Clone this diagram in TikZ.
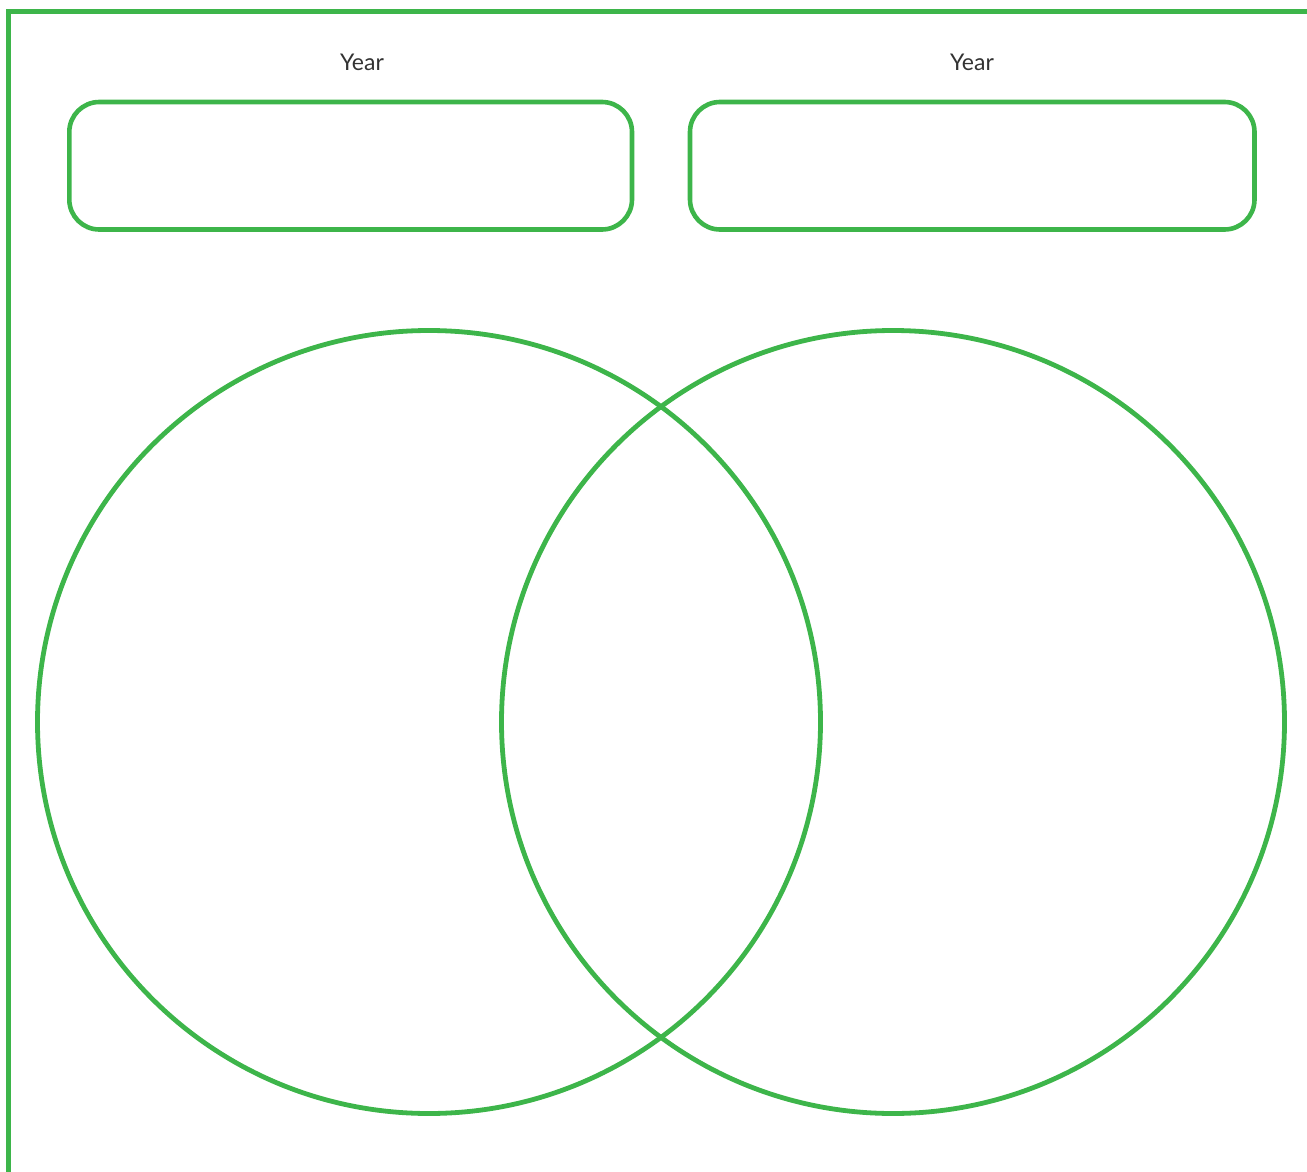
\documentclass[tikz,border=0pt]{standalone}
\usepackage{fontspec}
\setmainfont{Lato}
\definecolor{vgreen}{RGB}{61,181,74}
\definecolor{txt}{RGB}{51,51,51}
\begin{document}
\begin{tikzpicture}[x=1pt,y=-1pt,
  line/.style={draw=vgreen,line width=4.6pt},
  yearbox/.style={line,rounded corners=30pt},
  ring/.style={line,line width=4.8pt},
  lbl/.style={text=txt,font=\fontsize{23}{26}\selectfont,anchor=center,inner sep=0pt}]
\useasboundingbox (0,0) rectangle (1307,1172);
\begin{scope}
\clip (0,0) rectangle (1307,1172);
\draw[line] (8.5,11.7) rectangle (1309,1190);
\end{scope}
\node[lbl] (y1) at (362,62) {Year};
\node[lbl] (y2) at (972,62) {Year};
\draw[yearbox] (69.3,102) rectangle (632,229.5);
\draw[yearbox] (690,102) rectangle (1254.5,229.5);
\draw[ring] (429,722) circle (391.5);
\draw[ring] (893,722) circle (391.5);
\end{tikzpicture}
\end{document}
